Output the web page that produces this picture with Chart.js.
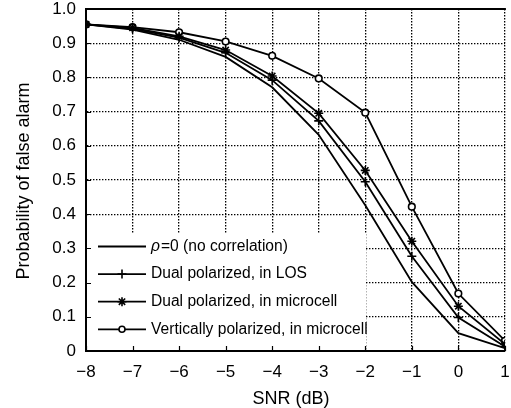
<!DOCTYPE html>
<html>
<head>
<meta charset="utf-8">
<script src="https://cdn.jsdelivr.net/npm/chart.js@4.4.0/dist/chart.umd.min.js"></script>
<style>
  html, body { margin: 0; padding: 0; background: #fff; overflow: hidden; }
  canvas { display: block; }
</style>
</head>
<body>
<canvas id="pfa" width="511" height="408"></canvas>
<script>
// SNR (dB) on the x axis
const snr = [-8, -7, -6, -5, -4, -3, -2, -1, 0, 1];
const xTickLabels = ["−8", "−7", "−6", "−5", "−4", "−3", "−2", "−1", "0", "1"];
const yTickLabels = ["0", "0.1", "0.2", "0.3", "0.4", "0.5", "0.6", "0.7", "0.8", "0.9", "1.0"];

const seriesNames = [
    "ρ=0 (no correlation)",
    "Dual polarized, in LOS",
    "Dual polarized, in microcell",
    "Vertically polarized, in microcell",
];

// probability of false alarm
const noCorrelation = [0.955, 0.94, 0.91, 0.86, 0.771, 0.632, 0.426, 0.202, 0.052, 0.008];
const dualLos = [0.955, 0.942, 0.916, 0.872, 0.792, 0.673, 0.495, 0.277, 0.098, 0.013];
const dualMicrocell = [0.955, 0.945, 0.92, 0.88, 0.804, 0.695, 0.528, 0.321, 0.131, 0.02];
const verticalMicrocell = [0.955, 0.947, 0.932, 0.905, 0.863, 0.797, 0.697, 0.422, 0.168, 0.03];

const FONT = "'Liberation Sans', Arial, Helvetica, sans-serif";

function toPoints(values) {
    return snr.map((x, i) => ({x: x, y: values[i]}));
}

function series(label, values, style, radius) {
    return {
        label: label,
        data: toPoints(values),
        borderColor: "#000",
        backgroundColor: "#fff",
        borderWidth: 1.8,
        pointStyle: style,
        pointRadius: radius,
        pointBorderWidth: 1.6,
        pointBorderColor: "#000",
        pointBackgroundColor: "#fff",
        tension: 0,
    };
}

function drawMarker(ctx, style, r, x, y) {
    if (!style) {
        return;
    }
    ctx.save();
    ctx.strokeStyle = "#000";
    ctx.lineWidth = 1.6;
    ctx.beginPath();
    if (style === "circle") {
        ctx.fillStyle = "#fff";
        ctx.arc(x, y, r, 0, Math.PI * 2);
        ctx.fill();
    } else {
        ctx.moveTo(x - r, y);
        ctx.lineTo(x + r, y);
        ctx.moveTo(x, y - r);
        ctx.lineTo(x, y + r);
        if (style === "star") {
            const d = r * Math.SQRT1_2;
            ctx.moveTo(x - d, y - d);
            ctx.lineTo(x + d, y + d);
            ctx.moveTo(x - d, y + d);
            ctx.lineTo(x + d, y - d);
        }
    }
    ctx.stroke();
    ctx.restore();
}

// legend box, inward ticks, top frame and axis titles
const framePlugin = {
    id: "frame",
    afterDatasetsDraw(chart) {
        const ctx = chart.ctx;
        const area = chart.chartArea;
        const xs = chart.scales.x;
        const ys = chart.scales.y;

        ctx.save();
        ctx.fillStyle = "#fff";
        ctx.fillRect(area.left + 1, 233, 366 - area.left - 1, area.bottom - 1 - 233);

        chart.data.datasets.forEach((ds, i) => {
            const cy = 246.5 + i * 27.6;
            ctx.strokeStyle = "#000";
            ctx.lineWidth = 1.8;
            ctx.beginPath();
            ctx.moveTo(98, cy);
            ctx.lineTo(146, cy);
            ctx.stroke();
            drawMarker(ctx, ds.pointStyle === false ? null : ds.pointStyle,
                ds.pointStyle === "circle" ? 3 : 4.5, 122, cy);

            ctx.fillStyle = "#000";
            ctx.textBaseline = "middle";
            ctx.textAlign = "left";
            let tx = 151;
            let text = ds.label;
            if (text.charAt(0) === "ρ") {
                ctx.font = "italic 15.6px " + FONT;
                ctx.fillText("ρ", tx, cy);
                tx += ctx.measureText("ρ").width + 1;
                text = text.slice(1);
            }
            ctx.font = "15.6px " + FONT;
            ctx.fillText(text, tx, cy);
        });

        // small inward ticks
        ctx.strokeStyle = "#000";
        ctx.lineWidth = 1.2;
        ctx.beginPath();
        snr.forEach((v) => {
            const px = Math.round(xs.getPixelForValue(v)) + 0.5;
            ctx.moveTo(px, area.bottom);
            ctx.lineTo(px, area.bottom - 5);
        });
        yTickLabels.forEach((lbl, i) => {
            const py = Math.round(ys.getPixelForValue(i / 10)) + 0.5;
            ctx.moveTo(area.left, py);
            ctx.lineTo(area.left + 5, py);
        });
        ctx.stroke();

        // top frame
        ctx.lineWidth = 2;
        ctx.beginPath();
        ctx.moveTo(area.left - 1, area.top);
        ctx.lineTo(area.right + 1, area.top);
        ctx.stroke();
        ctx.restore();
    },
    afterDraw(chart) {
        const ctx = chart.ctx;
        ctx.save();
        ctx.fillStyle = "#000";
        ctx.font = "18px " + FONT;
        ctx.textAlign = "center";
        ctx.textBaseline = "alphabetic";
        ctx.fillText("SNR (dB)", 291, 404);

        ctx.translate(24, 181);
        ctx.rotate(-Math.PI / 2);
        ctx.textBaseline = "middle";
        ctx.fillText("Probability of false alarm", 0, 0);
        ctx.restore();
    },
};

const datasets = [
    series(seriesNames[0], noCorrelation, false, 0),
    series(seriesNames[1], dualLos, "cross", 4.5),
    series(seriesNames[2], dualMicrocell, "star", 4.5),
    series(seriesNames[3], verticalMicrocell, "circle", 3.3),
];

new Chart(document.getElementById("pfa"), {
    type: "line",
    data: {datasets: datasets},
    plugins: [framePlugin],
    options: {
        responsive: false,
        animation: false,
        events: [],
        layout: {padding: {top: 9, right: 1, left: 0, bottom: 0}},
        plugins: {
            legend: {display: false},
            tooltip: {enabled: false},
        },
        scales: {
            x: {
                type: "linear",
                min: -8,
                max: 1,
                afterFit(scale) {
                    scale.paddingLeft = 0;
                    scale.paddingRight = 0;
                    scale.height = 57;
                },
                afterBuildTicks(scale) {
                    scale.ticks = snr.map((v) => ({value: v}));
                },
                ticks: {
                    padding: 11,
                    color: "#000",
                    font: {family: FONT, size: 17},
                    maxRotation: 0,
                    autoSkip: false,
                    callback: (v) => xTickLabels[snr.indexOf(v)],
                },
                grid: {
                    color: "#000",
                    lineWidth: 1.3,
                    drawTicks: false,
                },
                border: {color: "#000", width: 2, dash: [1.4, 1.6]},
            },
            y: {
                type: "linear",
                min: 0,
                max: 1,
                afterFit(scale) {
                    scale.paddingTop = 0;
                    scale.paddingBottom = 0;
                    scale.width = 86;
                },
                afterBuildTicks(scale) {
                    scale.ticks = yTickLabels.map((lbl, i) => ({value: i / 10}));
                },
                ticks: {
                    padding: 10,
                    color: "#000",
                    font: {family: FONT, size: 17},
                    autoSkip: false,
                    callback: (v) => yTickLabels[Math.round(v * 10)],
                },
                grid: {
                    color: "#000",
                    lineWidth: 1.3,
                    drawTicks: false,
                },
                border: {color: "#000", width: 2, dash: [1.4, 1.6]},
            },
        },
    },
});
</script>
</body>
</html>
